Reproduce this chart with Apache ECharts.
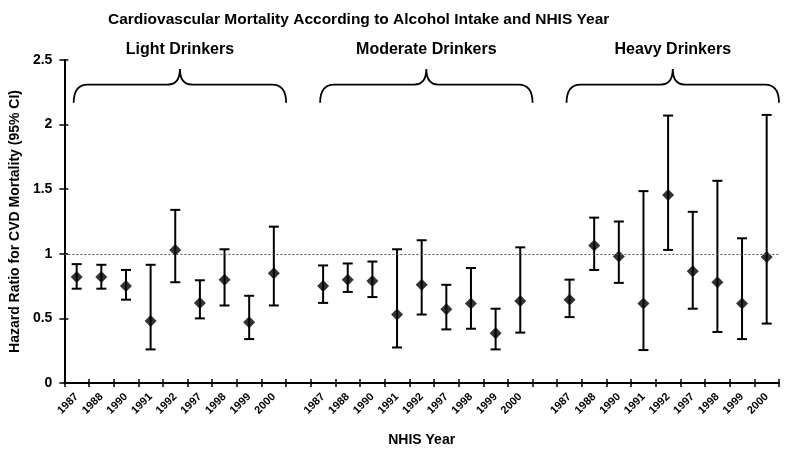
<!DOCTYPE html>
<html>
<head>
<meta charset="utf-8">
<script src="https://cdn.jsdelivr.net/npm/echarts@6/dist/echarts.min.js"></script>
<style>
html,body{margin:0;padding:0;background:#fff;}
#chart{width:800px;height:452px;}
</style>
</head>
<body>
<div id="chart"></div>
<script>
// ---- data ----
const years = ['1987','1988','1990','1991','1992','1997','1998','1999','2000'];
const groupNames = ['Light Drinkers','Moderate Drinkers','Heavy Drinkers'];

const lightHR = [0.82, 0.82, 0.75, 0.48, 1.03, 0.62, 0.80, 0.47, 0.85];
const lightLo = [0.73, 0.73, 0.645, 0.26, 0.78, 0.50, 0.60, 0.34, 0.60];
const lightHi = [0.92, 0.915, 0.875, 0.915, 1.34, 0.795, 1.035, 0.675, 1.21];

const moderateHR = [0.75, 0.80, 0.79, 0.53, 0.76, 0.57, 0.615, 0.385, 0.635];
const moderateLo = [0.62, 0.705, 0.665, 0.275, 0.53, 0.415, 0.42, 0.26, 0.39];
const moderateHi = [0.91, 0.925, 0.94, 1.035, 1.105, 0.76, 0.89, 0.575, 1.05];

const heavyHR = [0.645, 1.065, 0.98, 0.615, 1.455, 0.865, 0.78, 0.615, 0.975];
const heavyLo = [0.51, 0.875, 0.775, 0.255, 1.03, 0.575, 0.395, 0.34, 0.46];
const heavyHi = [0.80, 1.28, 1.25, 1.485, 2.07, 1.325, 1.565, 1.12, 2.075];

const yTicks = [0, 0.5, 1, 1.5, 2, 2.5];
const referenceHR = 1;

// ---- build ----
const groups = [
  {hr: lightHR, lo: lightLo, hi: lightHi},
  {hr: moderateHR, lo: moderateLo, hi: moderateHi},
  {hr: heavyHR, lo: heavyLo, hi: heavyHi}
];
const categories = [];
const points = [];
const bars = [];
const braces = [];
groups.forEach((g, gi) => {
  const start = categories.length;
  years.forEach((y, i) => {
    const idx = categories.length;
    categories.push(y);
    points.push([idx, g.hr[i]]);
    bars.push([idx, g.lo[i], g.hi[i]]);
  });
  braces.push([start, categories.length - 1, groupNames[gi]]);
  if (gi < groups.length - 1) categories.push('');
});

const FONT = '"Liberation Sans", Arial, sans-serif';
const chart = echarts.init(document.getElementById('chart'));

chart.setOption({
  backgroundColor: '#fff',
  animation: false,
  title: {
    text: 'Cardiovascular Mortality According to Alcohol Intake and NHIS Year',
    left: 103, top: 7,
    textStyle: {fontFamily: FONT, fontWeight: 'bold', fontSize: 15.5, color: '#000'}
  },
  grid: {left: 60, right: 21, top: 60, bottom: 64, containLabel: false},
  xAxis: [{
    type: 'category', data: categories, boundaryGap: true,
    name: 'NHIS Year', nameLocation: 'middle', nameGap: 50,
    nameTextStyle: {fontFamily: FONT, fontWeight: 'bold', fontSize: 14, color: '#000'},
    axisLine: {lineStyle: {color: '#000', width: 2}},
    axisTick: {show: true, interval: 0, length: 4, lineStyle: {color: '#000', width: 1.5}},
    axisLabel: {interval: 0, rotate: 45, margin: 12, fontFamily: FONT, fontWeight: 'bold', fontSize: 11, color: '#000'},
    splitLine: {show: false}
  }, {
    type: 'category', data: categories, boundaryGap: true, position: 'bottom',
    axisLine: {show: false},
    axisTick: {show: true, inside: true, interval: 0, length: 4, lineStyle: {color: '#000', width: 1.5}},
    axisLabel: {show: false}, splitLine: {show: false}
  }],
  yAxis: [{
    type: 'value', min: yTicks[0], max: yTicks[yTicks.length - 1], interval: 0.5,
    name: 'Hazard Ratio for CVD Mortality (95% CI)', nameLocation: 'middle', nameGap: 39,
    nameTextStyle: {fontFamily: FONT, fontWeight: 'bold', fontSize: 14, color: '#000'},
    axisLine: {show: true, lineStyle: {color: '#000', width: 2}},
    axisTick: {show: true, length: 5, lineStyle: {color: '#000', width: 1.5}},
    axisLabel: {margin: 12, fontFamily: FONT, fontWeight: 'bold', fontSize: 14, color: '#000'},
    splitLine: {show: false}
  }, {
    type: 'value', min: yTicks[0], max: yTicks[yTicks.length - 1], interval: 0.5, position: 'left',
    axisLine: {show: false},
    axisTick: {show: true, inside: true, length: 4, lineStyle: {color: '#000', width: 1.5}},
    axisLabel: {show: false}, splitLine: {show: false}
  }],
  series: [
    {
      type: 'custom', name: 'ci', xAxisIndex: 0, yAxisIndex: 0,
      data: bars,
      renderItem: function (params, api) {
        const x = api.value(0);
        const lo = api.coord([x, api.value(1)]);
        const hi = api.coord([x, api.value(2)]);
        const hw = 5;
        const st = {stroke: '#000', lineWidth: 2};
        return {type: 'group', children: [
          {type: 'line', shape: {x1: lo[0], y1: lo[1], x2: hi[0], y2: hi[1]}, style: st},
          {type: 'line', shape: {x1: lo[0]-hw, y1: lo[1], x2: lo[0]+hw, y2: lo[1]}, style: st},
          {type: 'line', shape: {x1: hi[0]-hw, y1: hi[1], x2: hi[0]+hw, y2: hi[1]}, style: st}
        ]};
      },
      z: 2
    },
    {
      type: 'scatter', name: 'HR', xAxisIndex: 0, yAxisIndex: 0,
      data: points, symbol: 'diamond', symbolSize: 12,
      itemStyle: {color: '#000'},
      markLine: {
        silent: true, symbol: 'none', label: {show: false},
        lineStyle: {color: '#555', type: [2, 2], width: 1},
        data: [{yAxis: referenceHR}]
      },
      z: 3
    },
    {
      type: 'custom', name: 'braces', xAxisIndex: 0, yAxisIndex: 0,
      data: braces.map(b => [b[0], b[1]]),
      clip: false,
      renderItem: function (params, api) {
        const s = api.value(0), e = api.value(1);
        const band = api.size([1, 0])[0];
        const pS = api.coord([s, 2.17]);
        const pE = api.coord([e, 2.17]);
        const L = pS[0] - 3;
        const R = pE[0] + band / 2;
        const C = (L + R) / 2;
        const yEnd = pS[1];
        const yArm = api.coord([s, 2.31])[1];
        const yPeak = api.coord([s, 2.43])[1];
        const yText = api.coord([s, 2.58])[1];
        const r = 14, r2 = 12;
        const d = 'M' + L + ',' + yEnd +
          ' Q' + L + ',' + yArm + ' ' + (L + r) + ',' + yArm +
          ' L' + (C - r2) + ',' + yArm +
          ' Q' + C + ',' + yArm + ' ' + C + ',' + yPeak +
          ' Q' + C + ',' + yArm + ' ' + (C + r2) + ',' + yArm +
          ' L' + (R - r) + ',' + yArm +
          ' Q' + R + ',' + yArm + ' ' + R + ',' + yEnd;
        return {type: 'group', children: [
          {type: 'path', shape: {pathData: d}, style: {fill: null, stroke: '#000', lineWidth: 1.8}},
          {type: 'text', x: C, y: yText, style: {
            text: groupNames[params.dataIndex], fill: '#000',
            font: 'bold 16px ' + FONT, textAlign: 'center', textVerticalAlign: 'middle'
          }}
        ]};
      },
      z: 4
    }
  ]
});
</script>
</body>
</html>
